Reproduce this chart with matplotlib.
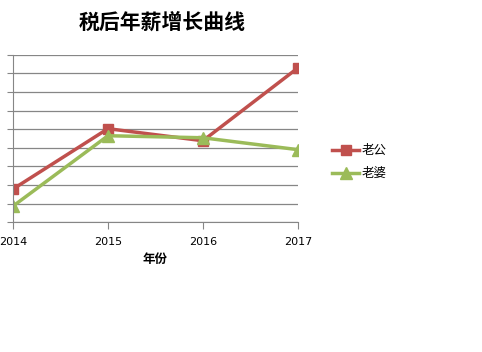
import matplotlib
matplotlib.use('Agg')
import matplotlib.pyplot as plt

plt.rcParams['font.family'] = ['Noto Sans CJK SC', 'DejaVu Sans']

years = [2014, 2015, 2016, 2017]
husband = [1.78, 5.03, 4.38, 8.3]
wife = [0.86, 4.65, 4.54, 3.9]
yticks = [0, 1, 2, 3, 4, 5, 6, 7, 8, 9]
ytick_labels = ['0', '1000', '2000', '3000', '4000', '5000', '6000', '7000', '8000', '9000']

fig = plt.figure(figsize=(4.82, 3.52), dpi=100)
ax = fig.add_axes([0.027, 0.369, 0.591, 0.475])

ax.plot(years, husband, color='#C0504D', lw=2.5, marker='s', ms=7, label='老公')
ax.plot(years, wife, color='#9BBB59', lw=2.5, marker='^', ms=8, label='老婆')

ax.set_xlim(2014, 2017)
ax.set_ylim(0, 9)
ax.set_xticks(years)
ax.set_xticklabels([str(y) for y in years], fontsize=8, family='DejaVu Sans')
ax.set_yticks(yticks)
# the labels sit mostly past the left edge, as in the reference
ax.set_yticklabels(ytick_labels, fontsize=8)
ax.tick_params(axis='y', length=4, color='#868686', pad=7)
ax.tick_params(axis='x', length=5, color='#868686', pad=6)
ax.yaxis.grid(True, color='#868686', lw=0.9)
ax.set_axisbelow(True)
for s in ['top', 'right']:
    ax.spines[s].set_visible(False)
for s in ['left', 'bottom']:
    ax.spines[s].set_color('#868686')

ax.set_xlabel('年份', fontsize=9, fontweight='bold', labelpad=4)
fig.text(0.336, 0.937, '税后年薪增长曲线', fontsize=15, fontweight='bold', ha='center', va='center')

fig.legend(loc='center left', bbox_to_anchor=(0.665, 0.54), frameon=False, fontsize=9,
           handlelength=2.2, labelspacing=0.8, handletextpad=0.2)

fig.savefig('out.png', dpi=100)
